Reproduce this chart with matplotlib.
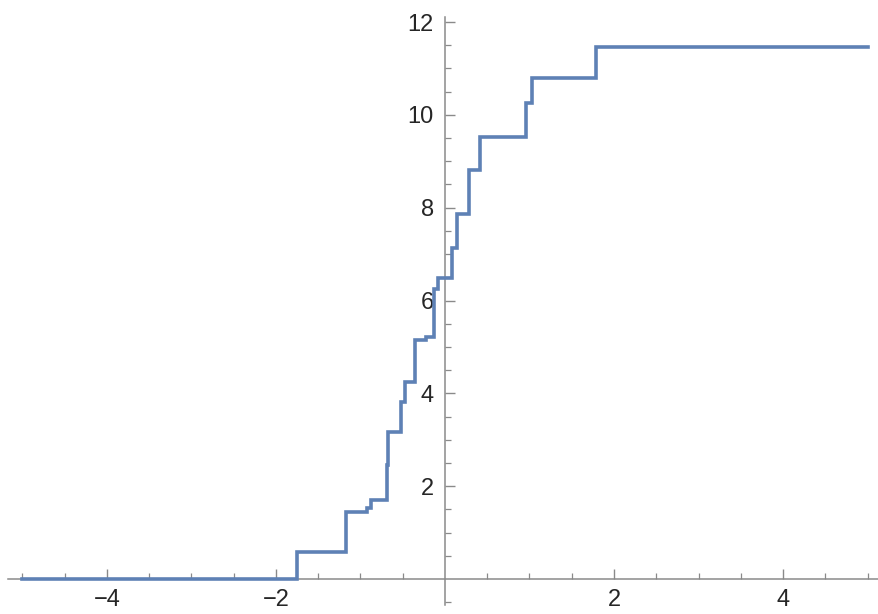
import matplotlib
matplotlib.use("Agg")
import matplotlib.pyplot as plt
from matplotlib import font_manager
import numpy as np

# Jump locations and the cumulative level reached after each jump
jump_x = [-5.0, -1.755, -1.17, -0.92, -0.87, -0.69, -0.67, -0.52, -0.47,
          -0.355, -0.225, -0.13, -0.08, 0.087, 0.138, 0.29, 0.414,
          0.955, 1.026, 1.783, 5.0]
level_y = [0.0, 0.59, 1.44, 1.52, 1.70, 2.46, 3.17, 3.82, 4.25,
           5.15, 5.21, 6.24, 6.48, 7.13, 7.87, 8.81, 9.53,
           10.25, 10.79, 11.47, 11.47]

x_major = [-4, -2, 2, 4]
y_major = [2, 4, 6, 8, 10, 12]

available = {f.name for f in font_manager.fontManager.ttflist}
family = "DejaVu Sans"
for cand in ("Liberation Sans Narrow", "Liberation Sans", "Arial"):
    if cand in available:
        family = cand
        break
plt.rcParams["font.family"] = [family, "DejaVu Sans"]

fig = plt.figure(figsize=(8.79, 6.14), dpi=100)
ax = fig.add_axes([0, 0, 1, 1])
ax.set_facecolor("white")

ax.plot(jump_x, level_y, drawstyle="steps-post", color="#5E81B5",
        lw=2.6, solid_joinstyle="miter", zorder=3)

ax.set_xlim(-5.266, 5.136)
ax.set_ylim(-0.754, 12.474)

axis_color = "#8a8a8a"
for side in ("top", "right"):
    ax.spines[side].set_visible(False)
ax.spines["left"].set_position(("data", 0))
ax.spines["bottom"].set_position(("data", 0))
ax.spines["left"].set_bounds(-0.55, 12.1)
ax.spines["bottom"].set_bounds(-5.17, 5.14)
for side in ("left", "bottom"):
    ax.spines[side].set_color(axis_color)
    ax.spines[side].set_linewidth(1.1)

ax.set_xticks(x_major)
ax.set_xticklabels(["\u22124", "\u22122", "2", "4"])
ax.set_xticks([v for v in np.arange(-5, 5.01, 0.5) if v not in x_major and v != 0], minor=True)
ax.set_yticks(y_major)
ax.set_yticklabels([str(v) for v in y_major])
ax.set_yticks([v for v in np.arange(-0.5, 12.01, 0.5) if v not in y_major and v != 0], minor=True)

ax.tick_params(which="major", direction="in", length=7, width=1.0,
               color=axis_color, labelcolor="#262626", labelsize=17)
ax.tick_params(which="minor", direction="in", length=4.5, width=0.9,
               color=axis_color)
ax.tick_params(axis="x", which="major", pad=7)
ax.tick_params(axis="y", which="major", pad=8)

fig.savefig("out.png", dpi=100, facecolor="white")
